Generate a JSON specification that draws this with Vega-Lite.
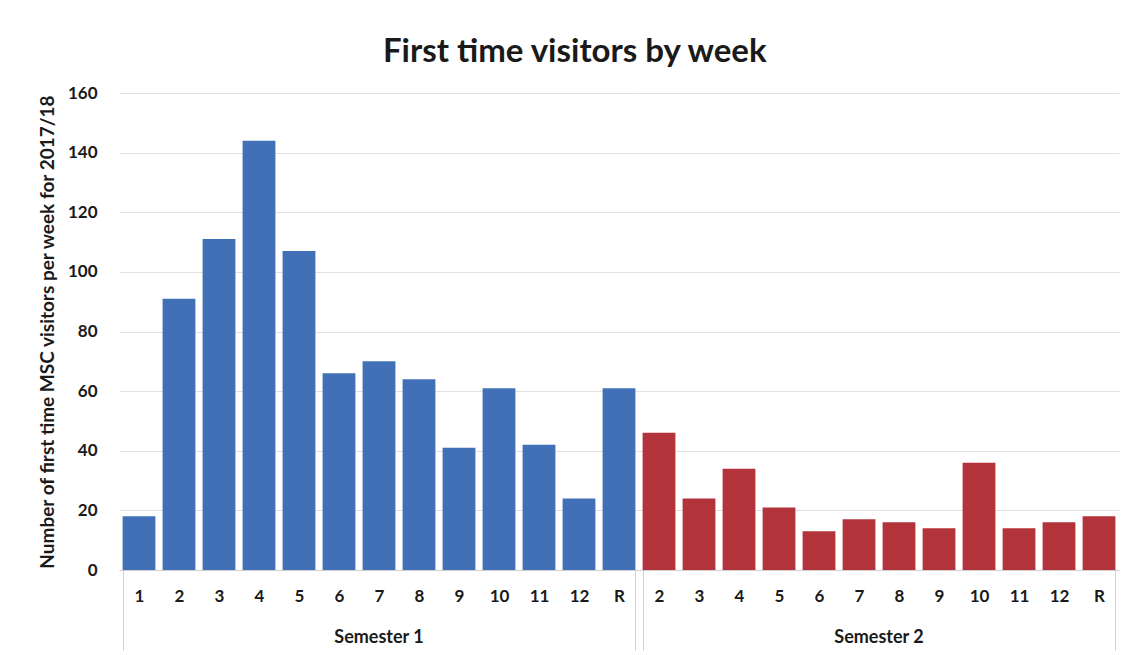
{
  "$schema": "https://vega.github.io/schema/vega-lite/v6.json",
  "padding": {"left": 38, "top": 36, "right": 10, "bottom": 5},
  "background": "white",
  "title": {"text": "First time visitors by week", "fontSize": 33, "font": "Lato", "fontWeight": "bold", "color": "#1a1a1a", "anchor": "middle", "offset": 15, "dx": -4},
  "data": {"values": [
    {"semester": "Semester 1", "week": "1", "visitors": 18},
    {"semester": "Semester 1", "week": "2", "visitors": 91},
    {"semester": "Semester 1", "week": "3", "visitors": 111},
    {"semester": "Semester 1", "week": "4", "visitors": 144},
    {"semester": "Semester 1", "week": "5", "visitors": 107},
    {"semester": "Semester 1", "week": "6", "visitors": 66},
    {"semester": "Semester 1", "week": "7", "visitors": 70},
    {"semester": "Semester 1", "week": "8", "visitors": 64},
    {"semester": "Semester 1", "week": "9", "visitors": 41},
    {"semester": "Semester 1", "week": "10", "visitors": 61},
    {"semester": "Semester 1", "week": "11", "visitors": 42},
    {"semester": "Semester 1", "week": "12", "visitors": 24},
    {"semester": "Semester 1", "week": "R", "visitors": 61},
    {"semester": "Semester 2", "week": "2", "visitors": 46},
    {"semester": "Semester 2", "week": "3", "visitors": 24},
    {"semester": "Semester 2", "week": "4", "visitors": 34},
    {"semester": "Semester 2", "week": "5", "visitors": 21},
    {"semester": "Semester 2", "week": "6", "visitors": 13},
    {"semester": "Semester 2", "week": "7", "visitors": 17},
    {"semester": "Semester 2", "week": "8", "visitors": 16},
    {"semester": "Semester 2", "week": "9", "visitors": 14},
    {"semester": "Semester 2", "week": "10", "visitors": 36},
    {"semester": "Semester 2", "week": "11", "visitors": 14},
    {"semester": "Semester 2", "week": "12", "visitors": 16},
    {"semester": "Semester 2", "week": "R", "visitors": 18}
  ]},
  "facet": {
    "column": {
      "field": "semester", "type": "nominal",
      "header": {"labelOrient": "bottom", "title": null, "labelFontSize": 18, "labelFont": "Lato", "labelFontWeight": "bold", "labelColor": "#1a1a1a", "labelPadding": -22}
    }
  },
  "spacing": 0,
  "resolve": {"scale": {"x": "independent"}},
  "spec": {
    "width": {"step": 40},
    "height": 477,
    "mark": {"type": "bar"},
    "encoding": {
      "x": {
        "field": "week", "type": "ordinal", "sort": null,
        "scale": {"paddingInner": 0.18, "paddingOuter": 0.09},
        "axis": {
          "title": null, "labelAngle": 0, "labelFont": "Lato", "labelFontSize": 17, "labelFontWeight": "bold", "labelColor": "#1a1a1a",
          "domainColor": "#d0d0d0", "tickColor": "#d0d0d0", "tickBand": "extent", "tickSize": 80,
          "tickOpacity": {"condition": {"test": "datum.index === 1 || !!datum.extra || datum.index > 1", "value": 1}, "value": 0},
          "labelPadding": -62
        }
      },
      "y": {
        "field": "visitors", "type": "quantitative",
        "scale": {"domain": [0, 160]},
        "axis": {
          "title": "Number of first time MSC visitors per week for 2017/18",
          "titleFont": "Lato", "titleFontSize": 19, "titleFontWeight": "bold", "titleColor": "#1a1a1a", "titlePadding": 10,
          "values": [0, 20, 40, 60, 80, 100, 120, 140, 160],
          "labelFont": "Lato", "labelFontSize": 17, "labelFontWeight": "bold", "labelColor": "#1a1a1a", "labelPadding": 22,
          "domain": false, "ticks": false, "gridColor": "#e0e0e0"
        }
      },
      "color": {
        "field": "semester", "type": "nominal",
        "scale": {"domain": ["Semester 1", "Semester 2"], "range": ["#4270B6", "#B3333A"]},
        "legend": null
      }
    }
  },
  "config": {"view": {"stroke": null}}
}
